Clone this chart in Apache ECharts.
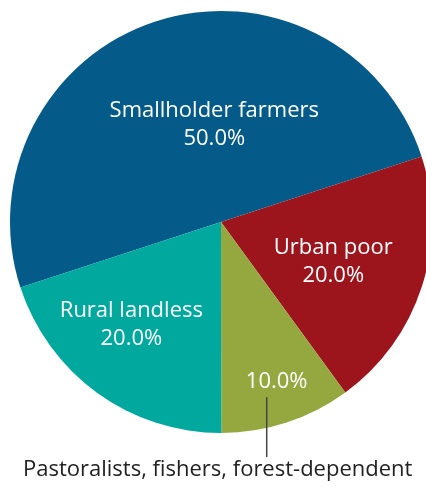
<!DOCTYPE html>
<html>
<head>
<meta charset="utf-8">
<script src="https://cdn.jsdelivr.net/npm/echarts@6/dist/echarts.min.js"></script>
<style>html,body{margin:0;padding:0;background:#fff}#c{width:426px;height:487px}</style>
</head>
<body>
<div id="c"></div>
<script>
const categories = ['Smallholder farmers', 'Urban poor', 'Pastoralists, fishers, forest-dependent', 'Rural landless'];
const shares = [50, 20, 10, 20];
const colors = ['#045B8A', '#9C151C', '#95A840', '#00A89D'];

const FONT = '"Open Sans", sans-serif';
const labelOffsets = [[27, 6], [9, 6], [22, 100], [-26, 15]];

const chart = echarts.init(document.getElementById('c'), null, {renderer: 'canvas'});
const data = categories.map((name, i) => ({
  name: name,
  value: shares[i],
  itemStyle: {color: colors[i]},
  label: {offset: labelOffsets[i]}
}));

chart.setOption({
  animation: false,
  series: [{
    type: 'pie',
    center: [221, 222],
    radius: [0, 211],
    startAngle: 198.1,
    clockwise: true,
    avoidLabelOverlap: false,
    labelLine: {show: false},
    itemStyle: {borderWidth: 0},
    label: {
      show: true,
      position: 'inside',
      fontFamily: FONT,
      color: '#fff',
      fontSize: 22,
      lineHeight: 28,
      formatter: function (p) {
        const pct = p.percent.toFixed(1) + '%';
        if (p.dataIndex === 2) {
          return '{pct|' + pct + '}\n{ln|}{sp|}\n{nm|' + p.name + '}{sp2|}';
        }
        return p.name + '\n' + pct;
      },
      rich: {
        pct: {fontFamily: FONT, fontSize: 22, color: '#fff', lineHeight: 30},
        ln: {width: 1.5, height: 60, lineHeight: 60, backgroundColor: '#444'},
        sp: {width: 20, height: 60, lineHeight: 60},
        nm: {fontFamily: FONT, fontSize: 22, color: '#222', lineHeight: 26},
        sp2: {width: 118, lineHeight: 26}
      }
    },
    data: data
  }]
});
</script>
</body>
</html>
